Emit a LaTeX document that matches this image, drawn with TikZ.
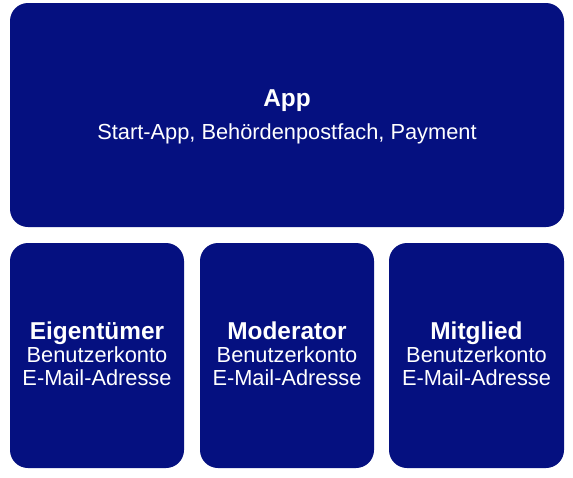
\documentclass[tikz,border=0pt]{standalone}
\usepackage{fontspec}
\setmainfont{Liberation Sans}
\definecolor{navy}{RGB}{5,16,128}
\tikzset{
  panel/.style={fill=navy, draw=none, rounded corners=18pt},
  ttl/.style={text=white, inner sep=0pt, anchor=base, font=\fontsize{24.4}{26}\selectfont\bfseries},
  txt/.style={text=white, inner sep=0pt, anchor=base, font=\fontsize{21.8}{23}\selectfont}
}
\begin{document}
\begin{tikzpicture}[x=1pt,y=1pt]
\useasboundingbox (0,0) rectangle (573,-477);
\fill[white] (0,0) rectangle (573,-477);
\path[panel] (10,-3) rectangle (564,-227);
\path[panel] (10,-243) rectangle (184,-468);
\path[panel] (200,-243) rectangle (374,-468);
\path[panel] (389,-243) rectangle (564,-468);
\node[ttl] (app) at (287,-106) {App};
\node[txt] (appsub) at (287,-139) {Start-App, Behördenpostfach, Payment};
\node[ttl] (eig) at (97,-339.5) {Eigentümer};
\node[txt] (eig2) at (97,-362.5) {Benutzerkonto};
\node[txt] (eig3) at (97,-385.5) {E-Mail-Adresse};
\node[ttl] (mod) at (287,-339.5) {Moderator};
\node[txt] (mod2) at (287,-362.5) {Benutzerkonto};
\node[txt] (mod3) at (287,-385.5) {E-Mail-Adresse};
\node[ttl] (mit) at (476.5,-339.5) {Mitglied};
\node[txt] (mit2) at (476.5,-362.5) {Benutzerkonto};
\node[txt] (mit3) at (476.5,-385.5) {E-Mail-Adresse};
\end{tikzpicture}
\end{document}
